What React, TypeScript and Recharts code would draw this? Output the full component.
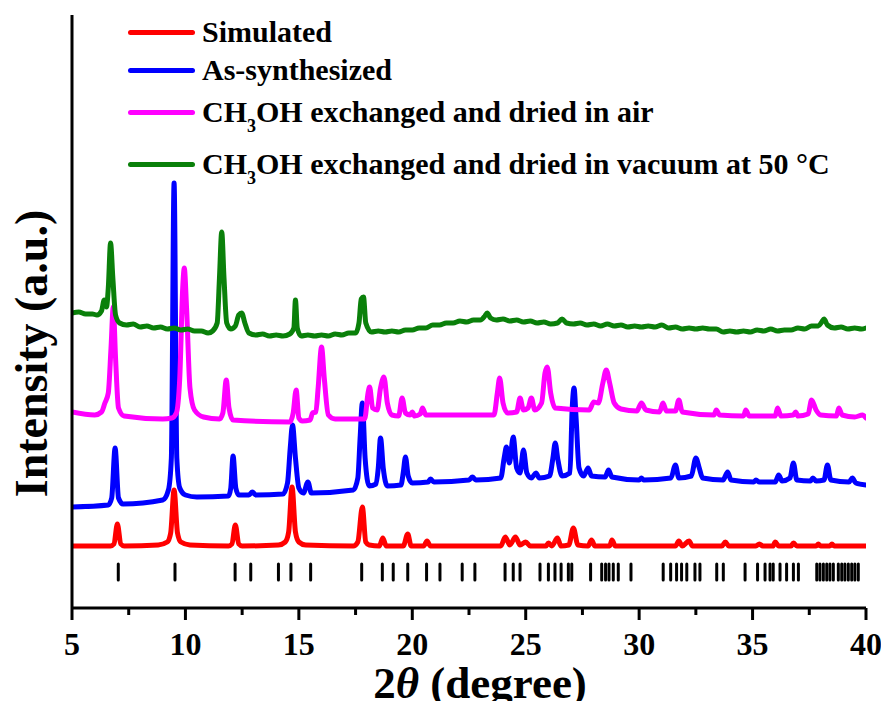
import React from 'react';
import { LineChart, Line, XAxis, YAxis, ReferenceLine, Legend } from 'recharts';

const FONT = "'Liberation Serif', 'Times New Roman', serif";

// 2theta (degree), intensity (a.u.)
const simulated: number[][] = [
  [5, 62], [6.7, 62], [6.85, 64], [7.0, 84], [7.15, 64], [7.3, 62],
  [8.8, 63], [9.2, 66], [9.35, 75], [9.5, 118], [9.65, 75], [9.8, 66], [10.2, 63],
  [11.9, 62], [12.05, 64], [12.2, 83], [12.35, 64], [12.5, 62],
  [14.1, 63], [14.4, 66], [14.55, 76], [14.7, 121], [14.85, 76], [15.0, 66], [15.3, 63],
  [17.4, 62], [17.6, 66], [17.8, 101], [17.95, 66], [18.1, 63],
  [18.55, 62], [18.7, 70], [18.85, 62],
  [19.6, 62], [19.8, 74], [19.95, 62],
  [20.5, 62], [20.65, 67], [20.8, 62],
  [23.9, 62], [24.1, 71], [24.3, 63], [24.55, 71], [24.75, 63], [25.0, 66], [25.2, 62],
  [25.9, 62], [26.0, 65], [26.15, 62], [26.4, 70], [26.55, 62],
  [26.9, 63], [27.1, 80], [27.3, 63],
  [27.75, 62], [27.9, 68], [28.05, 62],
  [28.7, 62], [28.8, 68], [28.95, 62],
  [31.6, 62], [31.75, 67], [31.9, 62], [32.2, 67], [32.35, 62],
  [33.65, 62], [33.8, 66], [33.95, 62],
  [35.15, 62], [35.3, 64], [35.45, 62], [35.9, 62], [36.0, 66], [36.15, 62],
  [36.7, 62], [36.8, 65], [36.95, 62], [37.8, 62], [37.9, 64], [38.0, 62],
  [38.4, 62], [38.5, 64], [38.6, 62], [40, 62],
];

const asSynthesized: number[][] = [
  [5, 101], [6.6, 103], [6.75, 110], [6.9, 160], [7.05, 110], [7.25, 104],
  [9.0, 108], [9.25, 118], [9.38, 150], [9.5, 425], [9.62, 150], [9.75, 120], [10.0, 113], [10.5, 111],
  [11.9, 112], [12.0, 120], [12.1, 152], [12.22, 120], [12.35, 113],
  [12.8, 113], [12.95, 116], [13.1, 113],
  [14.3, 114], [14.5, 125], [14.62, 160], [14.72, 183], [14.85, 150], [15.0, 120], [15.2, 115], [15.4, 126], [15.55, 115],
  [17.4, 118], [17.6, 130], [17.7, 170], [17.8, 205], [17.92, 150], [18.1, 122],
  [18.4, 124], [18.5, 140], [18.6, 170], [18.72, 140], [18.9, 122],
  [19.5, 123], [19.6, 135], [19.7, 151], [19.82, 132], [20.0, 125],
  [20.7, 126], [20.8, 129], [20.95, 126],
  [22.5, 128], [22.65, 131], [22.8, 128],
  [23.9, 130], [24.05, 150], [24.15, 161], [24.28, 145], [24.45, 171], [24.6, 140], [24.75, 135], [24.9, 158], [25.05, 135],
  [25.25, 130], [25.45, 135], [25.6, 130],
  [26.05, 132], [26.2, 150], [26.3, 165], [26.42, 148], [26.6, 132],
  [26.95, 135], [27.05, 200], [27.13, 220], [27.22, 190], [27.35, 140], [27.55, 132], [27.75, 140], [27.9, 132],
  [28.5, 131], [28.65, 138], [28.8, 131],
  [30.0, 128], [30.1, 130], [30.2, 128],
  [31.4, 130], [31.6, 143], [31.75, 130],
  [32.3, 132], [32.5, 150], [32.65, 140], [32.8, 130],
  [33.7, 128], [33.9, 136], [34.05, 128],
  [35.05, 126], [35.15, 128], [35.3, 126],
  [36.0, 126], [36.15, 133], [36.3, 127], [36.65, 130], [36.8, 145], [36.95, 128],
  [37.55, 127], [37.66, 130], [37.8, 127], [38.15, 128], [38.3, 143], [38.45, 128],
  [39.25, 126], [39.4, 130], [39.55, 125], [40, 123],
];

const driedInAir: number[][] = [
  [5, 196], [6.0, 193], [6.3, 196], [6.45, 205], [6.6, 215], [6.72, 260], [6.82, 301], [6.92, 250], [7.05, 200], [7.3, 192],
  [9.0, 189], [9.4, 190], [9.6, 195], [9.75, 230], [9.88, 320], [9.95, 340], [10.05, 300], [10.2, 220], [10.4, 198], [10.8, 191],
  [11.5, 189], [11.65, 195], [11.8, 228], [11.92, 200], [12.1, 188],
  [14.6, 186], [14.75, 195], [14.88, 218], [15.0, 190], [15.15, 187],
  [15.5, 188], [15.6, 195], [15.75, 196], [15.85, 220], [16.0, 261], [16.12, 230], [16.3, 193], [16.6, 189],
  [17.9, 189], [18.05, 215], [18.12, 221], [18.25, 200], [18.45, 198], [18.6, 220], [18.75, 231], [18.9, 205], [19.1, 193],
  [19.4, 192], [19.55, 210], [19.7, 195], [19.9, 193], [20.0, 196], [20.1, 192], [20.35, 194], [20.45, 200], [20.6, 193],
  [23.6, 193], [23.75, 215], [23.85, 230], [24.0, 205], [24.2, 195],
  [24.6, 196], [24.75, 210], [24.9, 198], [25.1, 200], [25.25, 210], [25.4, 198],
  [25.7, 205], [25.85, 235], [25.95, 241], [26.1, 215], [26.3, 200],
  [27.8, 198], [28.0, 206], [28.2, 205], [28.4, 225], [28.55, 238], [28.7, 225], [28.9, 205], [29.2, 199],
  [29.9, 197], [30.1, 205], [30.3, 198],
  [30.9, 196], [31.05, 205], [31.2, 197],
  [31.6, 197], [31.75, 208], [31.9, 196],
  [33.3, 193], [33.4, 198], [33.55, 193],
  [34.6, 192], [34.7, 198], [34.85, 192],
  [36.0, 192], [36.1, 200], [36.25, 192],
  [36.8, 193], [36.9, 196], [37.0, 192],
  [37.45, 194], [37.6, 208], [37.8, 198], [38.0, 193],
  [38.7, 192], [38.8, 200], [38.95, 193],
  [39.5, 191], [39.85, 193], [40, 190],
];

const driedInVacuum: number[][] = [
  [5, 295], [5.3, 296], [5.6, 294], [5.9, 294], [6.1, 293], [6.3, 297], [6.42, 308], [6.52, 301], [6.6, 320], [6.7, 365],
  [6.8, 330], [6.92, 293], [7.1, 285], [7.4, 283], [7.7, 284], [8.0, 281], [8.3, 282], [8.6, 280], [8.9, 281], [9.2, 279],
  [9.5, 280], [9.8, 278], [10.1, 279], [10.4, 277], [10.7, 277], [11.0, 275], [11.2, 277], [11.4, 285], [11.5, 330], [11.6, 376],
  [11.7, 330], [11.82, 285], [12.0, 279], [12.2, 282], [12.35, 293], [12.48, 295], [12.62, 285], [12.8, 275], [13.1, 273], [13.4, 274],
  [13.7, 272], [14.0, 273], [14.3, 272], [14.6, 274], [14.78, 280], [14.85, 308], [14.93, 280], [15.1, 272], [15.4, 273], [15.7, 272],
  [16.0, 273], [16.3, 272], [16.6, 274], [16.9, 273], [17.2, 275], [17.5, 275], [17.65, 285], [17.75, 309], [17.85, 311], [17.95, 285],
  [18.2, 276], [18.5, 277], [18.8, 276], [19.1, 277], [19.4, 276], [19.7, 278], [20.0, 278], [20.3, 280], [20.6, 280], [20.9, 283],
  [21.2, 283], [21.5, 285], [21.8, 285], [22.1, 287], [22.4, 286], [22.7, 288], [23.0, 288], [23.2, 292], [23.3, 295], [23.45, 290],
  [23.7, 288], [24.0, 289], [24.3, 287], [24.6, 288], [24.9, 286], [25.2, 287], [25.5, 285], [25.8, 286], [26.1, 284], [26.4, 285],
  [26.6, 289], [26.8, 285], [27.1, 284], [27.4, 285], [27.7, 283], [28.0, 284], [28.3, 282], [28.6, 284], [28.9, 282], [29.2, 283],
  [29.5, 281], [29.8, 282], [30.1, 281], [30.4, 282], [30.7, 281], [31.0, 283], [31.3, 280], [31.6, 281], [31.9, 279], [32.2, 280],
  [32.5, 279], [32.8, 280], [33.1, 279], [33.4, 279], [33.7, 276], [34.0, 277], [34.3, 276], [34.6, 277], [34.9, 276], [35.2, 278],
  [35.5, 277], [35.8, 279], [36.1, 277], [36.4, 278], [36.7, 278], [37.0, 280], [37.3, 279], [37.6, 282], [37.9, 282], [38.05, 286],
  [38.15, 289], [38.3, 283], [38.6, 280], [38.9, 281], [39.2, 279], [39.5, 280], [39.8, 279], [40, 280],
];

// calculated reflection positions (2theta)
const reflections: number[] = [
  7.04, 9.54, 12.19, 12.88, 14.1, 14.65, 15.52, 17.77, 18.68, 19.16, 19.8, 20.63, 21.22, 22.2, 22.76,
  24.09, 24.45, 24.75, 25.63, 26.0, 26.29, 26.56, 26.88, 27.03, 27.86, 28.35, 28.52, 28.67, 28.86, 29.08, 29.64,
  31.06, 31.39, 31.65, 31.87, 32.1, 32.46, 32.68, 33.42, 33.71, 34.67, 35.22, 35.55, 35.77, 35.91, 36.21, 36.5,
  36.8, 37.02, 37.83, 37.97, 38.12, 38.27, 38.41, 38.56, 38.78, 38.93, 39.07, 39.22, 39.37, 39.51, 39.66,
];
const reflectionLow = 28;
const reflectionHigh = 44;

const xTicks = [5, 7.5, 10, 12.5, 15, 17.5, 20, 22.5, 25, 27.5, 30, 32.5, 35, 37.5, 40];
const majorTicks = [5, 10, 15, 20, 25, 30, 35, 40];

const seriesNames = [
  'Simulated',
  'As-synthesized',
  'CH3OH exchanged and dried in air',
  'CH3OH exchanged and dried in vacuum at 50 °C',
];
const seriesColors = ['#ff0000', '#0000ff', '#ff00ff', '#0a800a'];

const toPts = (a: number[][]) => a.map(([x, y]) => ({ x, y }));

const renderName = (s: string) => {
  const parts = s.split('CH3OH');
  if (parts.length === 1) return s;
  return (
    <>
      CH<sub style={{ fontSize: 18, verticalAlign: '-10px', lineHeight: 0 }}>3</sub>OH{parts[1]}
    </>
  );
};

const rowTops = [0, 38, 80, 132];

const LegendContent = () => (
  <div style={{ position: 'relative', width: 740, height: 170, fontFamily: FONT, fontWeight: 'bold', fontSize: 30, color: '#000' }}>
    {seriesNames.map((n, i) => (
      <div key={n} style={{ position: 'absolute', left: 0, top: rowTops[i], height: 32, display: 'flex', alignItems: 'center', whiteSpace: 'nowrap' }}>
        <div style={{ width: 67, height: 5, background: seriesColors[i], borderRadius: 3, marginRight: 7 }} />
        <span style={{ lineHeight: '32px' }}>{renderName(n)}</span>
      </div>
    ))}
  </div>
);

const XTick = (props: any) => {
  const { x, y, payload } = props;
  const v = payload.value;
  const major = majorTicks.includes(v);
  return (
    <g>
      <line x1={x} x2={x} y1={y} y2={y + (major ? 12 : 7)} stroke="#000" strokeWidth={3} />
      {major && (
        <text x={x} y={y + 47} textAnchor="middle" fontSize={32} fontWeight="bold" fontFamily={FONT} fill="#000">
          {v}
        </text>
      )}
    </g>
  );
};

const XLabel = (props: any) => {
  const vb = props.viewBox || {};
  const cx = vb.x + vb.width / 2 + 11;
  const y = vb.y + 90;
  return (
    <text x={cx} y={y} textAnchor="middle" fontSize={45} fontWeight="bold" fontFamily={FONT} fill="#000">
      2<tspan fontStyle="italic">θ</tspan> (degree)
    </text>
  );
};

const YLabel = (props: any) => {
  const vb = props.viewBox || {};
  const tx = vb.x + 47;
  const ty = vb.y + vb.height / 2 + 42;
  return (
    <text x={tx} y={ty} transform={`rotate(-90, ${tx}, ${ty})`} textAnchor="middle" fontSize={46} fontWeight="bold" fontFamily={FONT} fill="#000">
      Intensity (a.u.)
    </text>
  );
};

export default function App() {
  const lineProps = {
    dataKey: 'y',
    type: 'monotone' as const,
    strokeWidth: 5,
    dot: false,
    activeDot: false,
    isAnimationActive: false,
    strokeLinejoin: 'round' as const,
    strokeLinecap: 'round' as const,
  };
  return (
    <div style={{ margin: -8 }}>
      <LineChart width={889} height={709} margin={{ top: 15, right: 23, bottom: 0, left: 0 }}>
        <XAxis
          dataKey="x"
          type="number"
          domain={[5, 40]}
          ticks={xTicks}
          interval={0}
          allowDataOverflow
          height={101}
          tickSize={0}
          tickMargin={0}
          tickLine={false}
          tick={<XTick />}
          axisLine={{ stroke: '#000', strokeWidth: 3 }}
          label={{ content: XLabel }}
        />
        <XAxis xAxisId="top" orientation="top" type="number" domain={[5, 40]} height={0} tick={false} tickLine={false} axisLine={{ stroke: '#000', strokeWidth: 3 }} />
        <YAxis
          type="number"
          domain={[0, 593]}
          allowDataOverflow
          width={72}
          tick={false}
          tickLine={false}
          axisLine={{ stroke: '#000', strokeWidth: 3 }}
          label={{ content: YLabel }}
        />
        <YAxis yAxisId="right" orientation="right" type="number" domain={[0, 593]} width={0} tick={false} tickLine={false} axisLine={{ stroke: '#000', strokeWidth: 3 }} />
        <Legend
          layout="horizontal"
          verticalAlign="middle"
          align="center"
          content={LegendContent}
          wrapperStyle={{ left: 128, top: 16, width: 740, height: 170 }}
        />
        {reflections.map((r) => (
          <ReferenceLine
            key={r}
            segment={[{ x: r, y: reflectionLow }, { x: r, y: reflectionHigh }]}
            stroke="#000"
            strokeWidth={3}
            strokeLinecap="round"
          />
        ))}
        <Line {...lineProps} data={toPts(asSynthesized)} name={seriesNames[1]} stroke={seriesColors[1]} />
        <Line {...lineProps} data={toPts(simulated)} name={seriesNames[0]} stroke={seriesColors[0]} />
        <Line {...lineProps} data={toPts(driedInAir)} name={seriesNames[2]} stroke={seriesColors[2]} />
        <Line {...lineProps} data={toPts(driedInVacuum)} name={seriesNames[3]} stroke={seriesColors[3]} />
      </LineChart>
    </div>
  );
}
